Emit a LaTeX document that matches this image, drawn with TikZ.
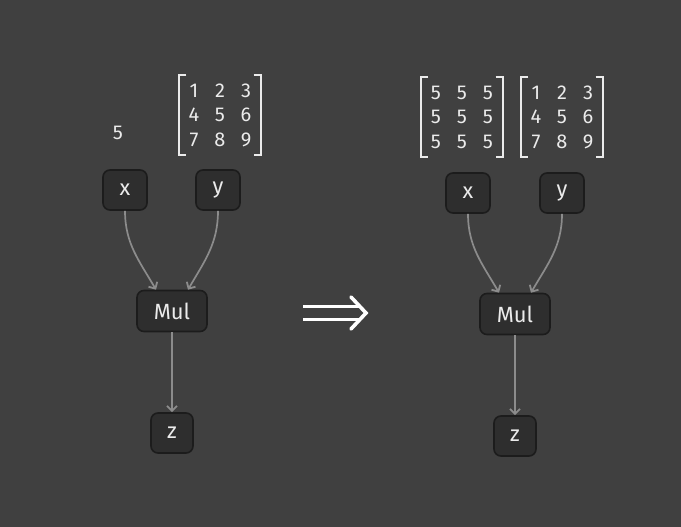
\documentclass[tikz,border=0pt]{standalone}
\usepackage{fontspec}
\setmainfont{Fira Sans}
\usetikzlibrary{matrix,arrows.meta}
\definecolor{bg}{HTML}{404040}
\definecolor{boxfill}{HTML}{2E2E2E}
\definecolor{boxline}{HTML}{1C1C1C}
\definecolor{fg}{HTML}{EBEBEB}
\definecolor{edge}{HTML}{8C8C8C}

\tikzset{
  op/.style   = {draw=boxline, line width=1.6pt, fill=boxfill, rounded corners=7pt,
                 text=fg, font=\fontsize{22}{26}\selectfont,
                 minimum width=44, minimum height=40, inner sep=0pt},
  mat/.style  = {matrix of nodes, inner xsep=1.5pt, inner ysep=3pt,
                 nodes={text=fg, font=\fontsize{20}{24}\selectfont, anchor=center,
                        minimum width=26, minimum height=24.5, inner sep=0pt}},
  val/.style  = {text=fg, font=\fontsize{20}{24}\selectfont, inner sep=0pt},
  brk/.style  = {draw=fg, line width=1.7pt},
  flow/.style = {draw=edge, line width=1.7pt,
                 -{Straight Barb[length=5pt,width=10pt,line width=1.8pt]}},
  imp/.style  = {draw=white, line width=3.6pt}
}

\newcommand{\brackets}[1]{%
  \draw[brk] ([xshift=7pt]#1.north west) -- (#1.north west) -- (#1.south west) -- ([xshift=7pt]#1.south west);
  \draw[brk] ([xshift=-7pt]#1.north east) -- (#1.north east) -- (#1.south east) -- ([xshift=-7pt]#1.south east);
}

\begin{document}
\begin{tikzpicture}[x=1pt, y=-1pt]
\fill[bg] (0,0) rectangle (681,527);
\useasboundingbox (0,0) rectangle (681,527);

%before
\node[val] (sa) at (118,133) {5};
\matrix[mat] (ma) at (220,115) {
  1 & 2 & 3 \\
  4 & 5 & 6 \\
  7 & 8 & 9 \\
};
\brackets{ma}

\node[op] (xa) at (125,190) {x};
\node[op] (ya) at (218,190) {y};
\node[op, minimum width=70, minimum height=41] (mula) at (172,311) {Mul};
\node[op, minimum width=42] (za) at (172,433) {z};

\draw[flow] (xa.south) to[out=-90, in=120] ([xshift=-16pt]mula.north);
\draw[flow] (ya.south) to[out=-90, in=60] ([xshift=16pt]mula.north);
\draw[flow] (mula.south) -- (za.north);

%implies
\coordinate (ia) at (303,313);
\draw[imp] ([yshift=-6.5pt]ia) -- ++(56,0);
\draw[imp] ([yshift=6.5pt]ia) -- ++(56,0);
\draw[imp, line cap=round, line join=miter] ([xshift=48pt,yshift=-16pt]ia) -- ([xshift=63pt]ia) -- ([xshift=48pt,yshift=16pt]ia);

%after
\matrix[mat] (mb) at (462,117) {
  5 & 5 & 5 \\
  5 & 5 & 5 \\
  5 & 5 & 5 \\
};
\brackets{mb}
\matrix[mat] (mc) at (562,117) {
  1 & 2 & 3 \\
  4 & 5 & 6 \\
  7 & 8 & 9 \\
};
\brackets{mc}

\node[op] (xb) at (468,193) {x};
\node[op] (yb) at (562,193) {y};
\node[op, minimum width=70, minimum height=41] (mulb) at (515,314) {Mul};
\node[op, minimum width=42] (zb) at (515,436) {z};

\draw[flow] (xb.south) to[out=-90, in=120] ([xshift=-16pt]mulb.north);
\draw[flow] (yb.south) to[out=-90, in=60] ([xshift=16pt]mulb.north);
\draw[flow] (mulb.south) -- (zb.north);

\end{tikzpicture}
\end{document}
